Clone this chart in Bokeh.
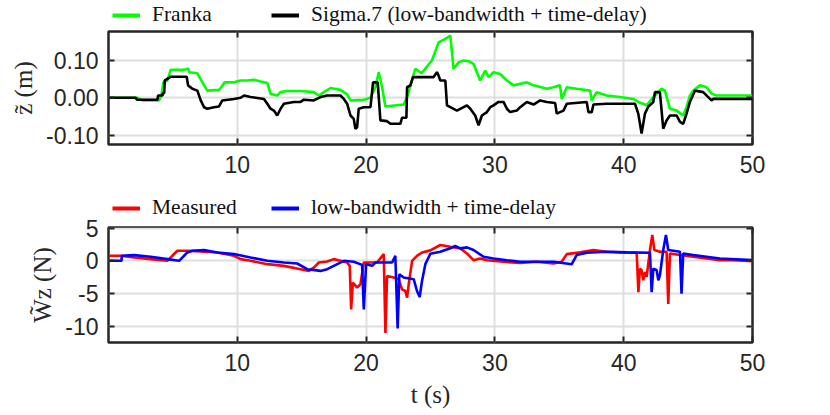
from bokeh.plotting import figure
from bokeh.models import (Range1d, LinearAxis, FixedTicker, PrintfTickFormatter,
                          Legend, LegendItem)
from bokeh.layouts import column
from bokeh.embed import file_html
from bokeh.resources import INLINE

# ---------------- data ----------------
t_franka = [0.05, 2.25, 2.64, 3.93, 4.11, 4.26, 4.57, 4.83, 5.61, 6.07, 6.18, 6.28, 6.90, 7.29, 7.67,
            8.58, 8.71, 9.02, 9.74, 10.26, 10.78, 11.29, 11.81, 12.33, 12.58, 13.10, 13.36, 13.88,
            14.91, 15.94, 16.33, 16.72, 17.24, 18.01, 18.53, 18.79, 19.82, 20.34, 20.72, 20.98,
            21.24, 21.50, 22.92, 23.18, 23.82, 24.30, 25.11, 25.63, 26.28, 26.54, 26.79, 27.18,
            27.57, 27.96, 28.34, 28.86, 29.25, 29.51, 29.89, 30.41, 30.93, 31.45, 32.48, 33.00,
            34.03, 34.55, 35.06, 35.19, 35.58, 36.35, 37.39, 37.52, 37.90, 38.68, 39.71, 40.75,
            41.13, 41.78, 42.30, 42.94, 43.20, 43.59, 44.11, 44.62, 44.88, 45.14, 45.40, 45.92,
            46.43, 46.82, 47.21, 50.0]
z_franka = [0.000, 0.000, -0.007, -0.007, 0.006, 0.041, 0.046, 0.074, 0.074, 0.076, 0.078, 0.068,
            0.065, 0.041, 0.019, 0.021, 0.026, 0.041, 0.041, 0.046, 0.046, 0.048, 0.043, 0.039,
            0.011, 0.006, 0.015, 0.018, 0.018, 0.015, 0.006, 0.015, 0.026, 0.021, 0.009, -0.007,
            -0.005, 0.000, 0.028, 0.068, 0.028, -0.023, -0.018, 0.002, 0.077, 0.065, 0.099, 0.147,
            0.159, 0.165, 0.077, 0.094, 0.099, 0.097, 0.090, 0.046, 0.072, 0.055, 0.068, 0.063,
            0.046, 0.033, 0.041, 0.033, 0.024, 0.028, 0.033, -0.003, 0.028, 0.024, 0.019, -0.007,
            0.015, 0.006, 0.002, -0.003, -0.011, -0.020, 0.002, 0.024, 0.019, -0.029, -0.034,
            -0.047, -0.025, 0.006, 0.019, 0.033, 0.028, 0.011, 0.006, 0.006]

t_sigma = [0.05, 2.12, 2.20, 3.80, 3.85, 4.19, 4.21, 4.32, 4.37, 4.70, 4.83, 6.07, 6.18, 6.51, 6.90,
           7.16, 7.42, 7.67, 8.19, 8.58, 8.84, 9.74, 10.26, 10.52, 11.03, 12.07, 12.33, 12.58, 12.84,
           13.10, 13.36, 13.62, 14.39, 14.91, 15.17, 15.94, 16.46, 16.98, 18.01, 18.27, 18.53,
           18.79, 19.04, 19.17, 19.30, 19.43, 19.82, 20.34, 20.54, 20.90, 21.11, 21.63, 21.89,
           22.66, 22.79, 23.13, 23.18, 23.44, 23.64, 25.24, 25.50, 25.63, 25.76, 26.15, 26.28,
           26.54, 27.05, 27.57, 27.83, 28.09, 28.47, 28.73, 28.99, 29.38, 29.64, 29.89, 30.28,
           30.67, 30.93, 31.19, 31.70, 31.96, 32.48, 33.00, 33.51, 34.03, 34.68, 34.80, 35.32,
           35.58, 37.13, 37.26, 37.52, 37.65, 38.68, 40.88, 41.13, 41.39, 41.65, 41.91, 42.30,
           42.43, 42.81, 43.07, 43.33, 43.59, 44.11, 44.37, 44.62, 44.88, 45.14, 45.53, 46.17,
           46.82, 46.95, 50.0]
z_sigma = [0.000, 0.000, -0.005, -0.005, 0.006, 0.006, 0.012, 0.012, 0.046, 0.053, 0.056, 0.056,
           0.033, 0.024, 0.019, -0.007, -0.025, -0.029, -0.025, -0.023, -0.007, -0.003, 0.000,
           0.006, 0.002, -0.003, -0.016, -0.029, -0.034, -0.047, -0.029, -0.016, -0.011, -0.011,
           -0.005, -0.007, 0.002, 0.006, 0.006, -0.003, -0.016, -0.047, -0.056, -0.082, -0.078,
           -0.029, -0.025, -0.025, 0.041, 0.041, -0.060, -0.062, -0.069, -0.069, -0.053, -0.053,
           0.028, 0.033, 0.055, 0.055, 0.068, 0.059, 0.046, 0.046, -0.020, -0.025, -0.034, -0.025,
           -0.020, -0.029, -0.047, -0.073, -0.047, -0.038, -0.025, -0.020, -0.011, -0.011, -0.029,
           -0.038, -0.034, -0.025, -0.011, -0.018, -0.007, -0.011, -0.014, -0.042, -0.034, -0.016,
           -0.011, -0.038, -0.038, -0.018, -0.016, -0.016, -0.042, -0.095, -0.042, -0.023, -0.011,
           0.015, 0.015, -0.082, -0.060, -0.047, -0.047, -0.064, -0.069, -0.042, -0.011, 0.019,
           0.015, -0.007, -0.003, -0.003]

t_meas = [0.05, 0.96, 1.99, 3.28, 4.57, 4.96, 5.35, 6.12, 7.16, 8.45, 9.74, 10.26, 11.03, 12.33,
          13.62, 14.91, 15.56, 15.94, 16.33, 16.98, 17.49, 18.01, 18.53, 18.73, 18.84, 18.97, 19.30,
          19.56, 19.82, 20.85, 21.37, 21.50, 21.63, 22.14, 22.53, 22.79, 23.05, 23.18, 23.31, 23.57,
          23.95, 24.34, 24.99, 25.76, 26.54, 27.31, 27.83, 28.34, 28.86, 29.38, 30.67, 31.96, 33.25,
          34.55, 35.19, 35.58, 36.61, 37.65, 38.68, 39.71, 41.01, 41.14, 41.26, 41.39, 41.52, 41.65,
          41.78, 42.04, 42.22, 42.38, 42.81, 43.33, 43.46, 43.59, 44.37, 45.40, 46.43, 47.47, 48.50,
          50.0]
w_meas = [0.77, 0.77, 0.51, 0.26, 0.00, 0.77, 1.54, 1.54, 1.44, 1.28, 0.77, 0.26, 0.00, -0.51,
          -0.77, -1.28, -1.54, -1.03, -0.26, -0.10, 0.26, 0.00, -0.26, -0.77, -7.44, -3.33, -4.10,
          -3.59, -0.26, -0.26, 1.03, -11.03, -2.31, -2.56, -2.82, -4.36, -4.62, -5.64, -3.59, 0.00,
          0.77, 1.28, 1.60, 2.42, 2.16, 1.91, 1.13, 0.10, 0.36, 0.10, -0.15, -0.31, -0.15, -0.41,
          -0.15, 1.03, 1.29, 1.65, 1.39, 1.29, 1.24, -4.79, -1.19, -1.44, -2.99, -1.70, -2.47, 1.65,
          3.97, 1.65, 1.39, 1.39, -6.60, 1.13, 0.88, 0.62, 0.36, 0.10, 0.10, -0.05]

t_lbtd = [0.05, 1.01, 1.03, 1.99, 3.28, 4.57, 5.48, 6.12, 6.51, 7.42, 8.45, 9.74, 11.03, 12.33,
          13.62, 14.65, 15.43, 16.46, 16.98, 17.49, 18.27, 19.04, 19.69, 19.82, 20.00, 20.47, 20.72,
          22.02, 22.27, 22.45, 22.58, 22.92, 23.70, 23.95, 24.16, 24.34, 24.60, 24.99, 25.76, 26.54,
          26.92, 27.31, 27.83, 28.34, 29.12, 29.89, 30.93, 31.96, 33.25, 34.55, 35.97, 36.35, 37.13,
          38.68, 40.23, 42.04, 42.17, 42.30, 42.56, 42.69, 42.81, 43.07, 43.28, 43.46, 44.37, 44.49,
          44.62, 45.40, 46.43, 47.47, 50.0]
w_lbtd = [0.00, 0.00, 0.77, 0.87, 0.62, 0.26, 0.00, 1.28, 1.54, 1.64, 1.28, 1.03, 0.51, 0.00,
          -0.26, -0.41, -1.28, -1.54, -1.28, -0.77, 0.00, -0.15, -0.62, -7.44, -0.51, -0.77, -0.26,
          -0.26, 0.77, -10.36, -2.05, -2.56, -2.82, -4.62, -5.54, -3.08, -0.51, 1.08, 1.39, 1.91,
          2.27, 1.91, 2.06, 1.65, 0.62, 0.36, 0.10, -0.15, -0.15, -0.15, -0.52, 0.88, 1.24, 1.39,
          1.29, 1.24, -4.79, -1.19, -1.44, -2.99, -2.22, 1.65, 3.97, 1.65, 1.39, -5.05, 1.13, 0.88,
          0.62, 0.36, 0.10]

x_ticks = [10, 20, 30, 40, 50]
z_ticks = [-0.10, 0.00, 0.10]
w_ticks = [-10, -5, 0, 5]

top_labels = ["Franka", "Sigma.7 (low-bandwidth + time-delay)"]
top_colors = ["#00ff00", "#000000"]
bot_labels = ["Measured", "low-bandwidth + time-delay"]
bot_colors = ["#ff0000", "#0000ff"]

# ---------------- styling helpers ----------------
DARK = "#262626"
GRID = "#dedede"
TICK_FONT = "Liberation Sans"
SERIF = "Liberation Serif"
WIDTH = 800
LEFT = 108
RIGHT = WIDTH - 752


def box_axis(ticks):
    ax = LinearAxis(ticker=FixedTicker(ticks=ticks))
    ax.axis_line_color = None
    ax.major_tick_in = 6
    ax.major_tick_out = 0
    ax.major_tick_line_color = DARK
    ax.major_tick_line_width = 2
    ax.minor_tick_line_color = None
    ax.major_label_text_font_size = "0px"
    ax.major_label_text_color = None
    ax.major_label_standoff = 0
    return ax


def make_fig(height, top, bottom, yrange, yticks, yfmt, ylabel, xlabel, overlap):
    p = figure(width=WIDTH, height=height, output_backend="svg", toolbar_location=None,
               x_range=Range1d(0, 50), y_range=Range1d(*yrange),
               min_border_left=LEFT, min_border_right=RIGHT,
               min_border_top=top, min_border_bottom=bottom)
    p.margin = (-overlap, 0, 0, 0)
    p.background_fill_color = "white"
    p.border_fill_alpha = 0
    p.outline_line_color = DARK
    p.outline_line_width = 2.5
    p.outline_line_alpha = 1.0

    xa = p.xaxis[0]
    xa.ticker = FixedTicker(ticks=x_ticks)
    ya = p.yaxis[0]
    ya.ticker = FixedTicker(ticks=yticks)
    ya.formatter = PrintfTickFormatter(format=yfmt)
    for ax in (xa, ya):
        ax.axis_line_color = None
        ax.major_tick_in = 6
        ax.major_tick_out = 0
        ax.major_tick_line_color = DARK
        ax.major_tick_line_width = 2
        ax.minor_tick_line_color = None
        ax.major_label_text_font = TICK_FONT
        ax.major_label_text_font_size = "23px"
        ax.major_label_text_color = DARK
        ax.axis_label_text_font = SERIF
        ax.axis_label_text_font_size = "25px"
        ax.axis_label_text_font_style = "normal"
        ax.axis_label_text_color = DARK
    xa.major_label_standoff = 11
    xa.axis_label_standoff = 7
    ya.major_label_standoff = 10
    ya.axis_label_standoff = 6
    ya.axis_label = ylabel
    if xlabel:
        xa.axis_label = xlabel

    # mirrored inner ticks on top and right (box style)
    p.add_layout(box_axis(x_ticks), "above")
    p.add_layout(box_axis(yticks), "right")

    p.xgrid.ticker = FixedTicker(ticks=x_ticks)
    p.ygrid.ticker = FixedTicker(ticks=yticks)
    for g in (p.xgrid[0], p.ygrid[0]):
        g.grid_line_color = GRID
        g.grid_line_width = 2
    return p


def legend_fig(height, labels, colors, series, vy):
    # a strip that only holds the legend; the series lie outside its visible y range
    lf = figure(width=WIDTH, height=height, output_backend="svg", toolbar_location=None,
                x_range=Range1d(0, 50), y_range=Range1d(1000, 1001),
                x_axis_type=None, y_axis_type=None,
                min_border_left=LEFT, min_border_right=RIGHT,
                min_border_top=0, min_border_bottom=0)
    lf.outline_line_color = None
    lf.background_fill_color = "white"
    lf.border_fill_color = "white"
    rs = [lf.line(x=xs, y=ys, line_color=c, line_width=4) for c, (xs, ys) in zip(colors, series)]
    leg = Legend(items=[LegendItem(label=l, renderers=[r]) for l, r in zip(labels, rs)],
                 location=(4, vy), orientation="horizontal",
                 padding=0, margin=0, spacing=9, label_width=110,
                 glyph_width=28, glyph_height=20, label_standoff=12,
                 label_text_font=SERIF, label_text_font_size="21.5px",
                 label_text_color="#111111",
                 background_fill_alpha=0, border_line_color=None)
    lf.add_layout(leg)
    return lf


# ---------------- top panel ----------------
L1 = legend_fig(29, top_labels, top_colors, [(t_franka, z_franka), (t_sigma, z_sigma)], 2)
H1, T1, B1, O1 = 165, 8, 44, 6
p1 = make_fig(H1, T1, B1, (-0.124, 0.176), z_ticks, "%.2f", "z\u0303 (m)", None, O1)
p1.line(t_franka, z_franka, line_color=top_colors[0], line_width=2.6)
p1.line(t_sigma, z_sigma, line_color=top_colors[1], line_width=2.6)

# ---------------- bottom panel ----------------
L2 = legend_fig(32, bot_labels, bot_colors, [(t_meas, w_meas), (t_lbtd, w_lbtd)], 0)
H2, T2, B2, O2 = 202, 15, 72, 8
p2 = make_fig(H2, T2, B2, (-12.5, 5.1), w_ticks, "%d", "W\u0303z (N)", "t (s)", O2)
p2.line(t_meas, w_meas, line_color=bot_colors[0], line_width=2.6)
p2.line(t_lbtd, w_lbtd, line_color=bot_colors[1], line_width=2.6)

layout = column(L1, p1, L2, p2, spacing=0)
open("out.html", "w").write(file_html(layout, INLINE))
